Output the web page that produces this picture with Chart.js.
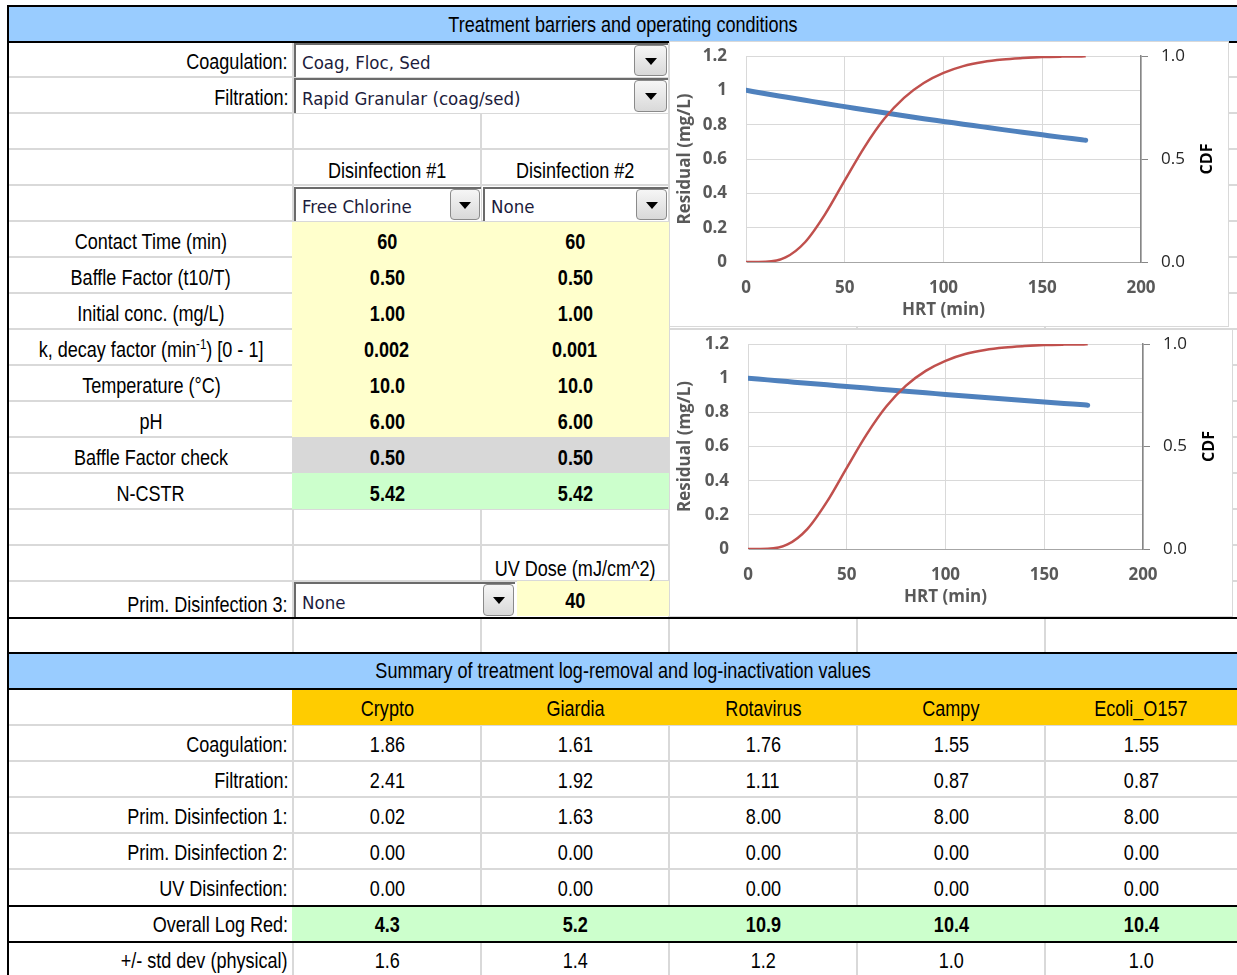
<!DOCTYPE html>
<html>
<head>
<meta charset="utf-8">
<title>Treatment barriers</title>
<script src="https://cdn.jsdelivr.net/npm/chart.js@4.4.1/dist/chart.umd.min.js"></script>
<style>
    body {
        margin: 0;
        width: 1237px;
        height: 975px;
        overflow: hidden;
        background: #fff;
    }
    #sheet {
        position: relative;
        width: 1237px;
        height: 975px;
        font-family: "Liberation Sans", Arial, sans-serif;
        font-size: 22px;
        color: #000;
    }
    .blk {
        position: absolute;
        white-space: nowrap;
        box-sizing: border-box;
    }
    /* Arial Narrow look: squeeze Liberation Sans horizontally */
    .narrow {
        display: inline-block;
        transform: scaleX(0.82);
    }
    .dd-text {
        position: absolute;
        left: 6px;
        font-family: "DejaVu Sans Condensed", "DejaVu Sans", sans-serif;
        font-size: 18.5px;
        color: #1c1c3c;
    }
    .dd-btn {
        position: absolute;
        right: 1px;
        top: 0;
        border: 1px solid #8a8a8a;
        border-radius: 4px;
        background: linear-gradient(#f6f6f6, #d9d9d9);
        box-sizing: border-box;
    }
    .dd-btn::after {
        content: "";
        position: absolute;
        left: 50%;
        top: 50%;
        margin-left: -6px;
        margin-top: -3px;
        border-left: 6px solid transparent;
        border-right: 6px solid transparent;
        border-top: 7px solid #000;
    }
    canvas {
        position: absolute;
    }
</style>
</head>
<body>
<div id="sheet"></div>

<script>
// Chart data
const hrtMin = [0, 10, 20, 30, 40, 50, 60, 70, 80, 90, 100, 110, 120, 130, 140, 150, 160, 170, 172]
const cdfValues = [0, 0.001, 0.022, 0.097, 0.231, 0.396, 0.558, 0.695, 0.797, 0.869, 0.918, 0.951, 0.971, 0.983, 0.990, 0.995, 0.997, 0.998, 0.999]
const residualDisinf1 = [1, 0.980, 0.961, 0.942, 0.923, 0.905, 0.887, 0.869, 0.852, 0.835, 0.819, 0.803, 0.787, 0.771, 0.756, 0.741, 0.726, 0.712, 0.709]
const residualDisinf2 = [1, 0.990, 0.980, 0.970, 0.961, 0.951, 0.942, 0.932, 0.923, 0.914, 0.905, 0.896, 0.887, 0.878, 0.869, 0.861, 0.852, 0.844, 0.842]
const residualTicks = ['0', '0.2', '0.4', '0.6', '0.8', '1', '1.2']
const cdfTicks = ['0.0', '0.5', '1.0']

// Table content
const paramLabels = ['Contact Time (min)', 'Baffle Factor (t10/T)', 'Initial conc. (mg/L)',
    'k, decay factor (min<span style="font-size:14px;position:relative;top:-8px">-1</span>) [0 - 1]',
    'Temperature (°C)', 'pH', 'Baffle Factor check', 'N-CSTR']
const disinf1Values = ['60', '0.50', '1.00', '0.002', '10.0', '6.00', '0.50', '5.42']
const disinf2Values = ['60', '0.50', '1.00', '0.001', '10.0', '6.00', '0.50', '5.42']
const species = ['Crypto', 'Giardia', 'Rotavirus', 'Campy', 'Ecoli_O157']
const summaryLabels = ['Coagulation:', 'Filtration:', 'Prim. Disinfection 1:', 'Prim. Disinfection 2:',
    'UV Disinfection:', 'Overall Log Red:', '+/- std dev (physical)']
const summaryValues = [
    ['1.86', '1.61', '1.76', '1.55', '1.55'],
    ['2.41', '1.92', '1.11', '0.87', '0.87'],
    ['0.02', '1.63', '8.00', '8.00', '8.00'],
    ['0.00', '0.00', '0.00', '0.00', '0.00'],
    ['0.00', '0.00', '0.00', '0.00', '0.00'],
    ['4.3', '5.2', '10.9', '10.4', '10.4'],
    ['1.6', '1.4', '1.2', '1.0', '1.0']
]

const colEdges = [9, 293, 481, 669, 857, 1045, 1237]
const colCenters = [387, 575, 763, 951, 1141]
const gridGray = '#D9D9D9'

const sheet = document.getElementById('sheet')

function block(x, y, w, h, css) {
    let d = document.createElement('div')
    d.className = 'blk'
    d.style.cssText = `left:${x}px;top:${y}px;width:${w}px;height:${h}px;` + (css || '')
    sheet.appendChild(d)
    return d
}

// right aligned label ending at x
function rightText(x, y, html) {
    let d = block(x - 600, y, 600, 36, 'line-height:36px;text-align:right;')
    d.innerHTML = `<span class="narrow" style="transform-origin:right center">${html}</span>`
}

function centered(cx, y, html, css) {
    let d = block(cx - 400, y, 800, 36, 'line-height:36px;text-align:center;' + (css || ''))
    d.innerHTML = `<span class="narrow" style="transform-origin:center center">${html}</span>`
}

function dropdown(x, y, w, h, label, btnW) {
    let d = block(x, y, w, h, 'background:#fff;border-top:2px solid #6b6b6b;border-left:2px solid #6b6b6b;')
    let t = document.createElement('div')
    t.className = 'dd-text'
    t.style.top = '2px'
    t.style.lineHeight = (h - 2) + 'px'
    t.textContent = label
    d.appendChild(t)
    let b = document.createElement('div')
    b.className = 'dd-btn'
    b.style.width = btnW + 'px'
    b.style.height = (h - 3) + 'px'
    d.appendChild(b)
}

// gridlines
const topRows = [77, 113, 149, 185, 221, 257, 293, 329, 365, 401, 437, 473, 509, 545, 581]
topRows.forEach((y) => block(9, y - 1, 1228, 2, `background:${gridGray}`))
const summaryRows = [725, 761, 797, 833, 869]
summaryRows.forEach((y) => block(9, y - 1, 1228, 2, `background:${gridGray}`))
colEdges.slice(1, 6).forEach((x) => {
    block(x - 1, 43, 2, 574, `background:${gridGray}`)
    block(x - 1, 619, 2, 33, `background:${gridGray}`)
    block(x - 1, 690, 2, 285, `background:${gridGray}`)
})

// fills
block(9, 7, 1228, 34, 'background:#99CCFF')
block(9, 654, 1228, 34, 'background:#99CCFF')
block(292, 222, 377, 215, 'background:#FFFFCC')
block(292, 437, 377, 36, 'background:#D8D8D8')
block(292, 473, 377, 36, 'background:#CCFFCC')
block(517, 581, 152, 35, 'background:#FFFFCC')
block(292, 690, 945, 35, 'background:#FFCC00')
block(292, 907, 945, 34, 'background:#CCFFCC')

// black borders
;[5, 41, 617, 652, 688, 905, 941].forEach((y) => block(7, y, 1230, 2, 'background:#000'))
block(7, 5, 2, 970, 'background:#000')

// dropdowns
dropdown(294, 43, 374, 34, 'Coag, Floc, Sed', 33)
dropdown(294, 78, 374, 35, 'Rapid Granular (coag/sed)', 33)
dropdown(294, 187, 187, 34, 'Free Chlorine', 30)
dropdown(483, 187, 185, 34, 'None', 31)
dropdown(294, 582, 221, 35, 'None', 31)

// top section text
centered(623, 7, 'Treatment barriers and operating conditions')
rightText(288, 44, 'Coagulation:')
rightText(288, 80, 'Filtration:')
centered(colCenters[0], 153, 'Disinfection #1')
centered(colCenters[1], 153, 'Disinfection #2')
paramLabels.forEach((lab, i) => {
    let y = 224 + i * 36
    centered(151, y, lab)
    centered(colCenters[0], y, disinf1Values[i], 'font-weight:bold')
    centered(colCenters[1], y, disinf2Values[i], 'font-weight:bold')
})
centered(colCenters[1], 551, 'UV Dose (mJ/cm^2)')
rightText(288, 587, 'Prim. Disinfection 3:')
centered(colCenters[1], 583, '40', 'font-weight:bold')

// summary section
centered(623, 653, 'Summary of treatment log-removal and log-inactivation values')
species.forEach((s, j) => centered(colCenters[j], 691, s))
summaryLabels.forEach((lab, i) => {
    let y = 727 + i * 36
    rightText(288, y, lab)
    summaryValues[i].forEach((v, j) => {
        centered(colCenters[j], y, v, i === 5 ? 'font-weight:bold' : '')
    })
})

// charts
Chart.defaults.font.family = "'Open Sans', sans-serif"

const cdfAxisTitle = {
    id: 'cdfAxisTitle',
    afterDraw(chart) {
        let ctx = chart.ctx
        let area = chart.chartArea
        ctx.save()
        ctx.translate(area.right + 66, (area.top + area.bottom) / 2)
        ctx.rotate(-Math.PI / 2)
        ctx.font = "bold 16px 'Open Sans'"
        ctx.fillStyle = '#000'
        ctx.textAlign = 'center'
        ctx.textBaseline = 'middle'
        ctx.fillText('CDF', 0, 0)
        ctx.restore()
    }
}

function residualChart(box, residual, fit) {
    block(box.x, box.y, box.w, box.h, 'background:#fff;border:1px solid #D9D9D9')
    let canvas = document.createElement('canvas')
    canvas.width = box.w
    canvas.height = box.h - 1
    canvas.style.left = box.x + 'px'
    canvas.style.top = (box.y + 1) + 'px'
    sheet.appendChild(canvas)

    return new Chart(canvas, {
        type: 'line',
        data: {
            datasets: [{
                label: 'CDF',
                data: hrtMin.map((t, i) => ({ x: t, y: cdfValues[i] })),
                yAxisID: 'y2',
                borderColor: '#C0504D',
                borderWidth: 2.5,
                pointRadius: 0,
                cubicInterpolationMode: 'monotone'
            }, {
                label: 'Residual',
                data: hrtMin.map((t, i) => ({ x: t, y: residual[i] })),
                yAxisID: 'y',
                borderColor: '#4F81BD',
                borderWidth: 5,
                borderCapStyle: 'round',
                pointRadius: 0,
                cubicInterpolationMode: 'monotone'
            }]
        },
        options: {
            responsive: false,
            animation: false,
            events: [],
            layout: { padding: { top: 14, left: 0, right: 0, bottom: 0 } },
            plugins: {
                legend: { display: false },
                tooltip: { enabled: false }
            },
            scales: {
                x: {
                    type: 'linear',
                    min: 0,
                    max: 200,
                    ticks: { stepSize: 50, padding: 16, color: '#595959', font: { size: 17, weight: 'bold' } },
                    grid: { color: gridGray, drawTicks: false },
                    border: { color: '#A6A6A6' },
                    title: {
                        display: true,
                        text: 'HRT (min)',
                        color: '#595959',
                        font: { size: 17, weight: 'bold' },
                        padding: { top: 0, bottom: fit.titlePad }
                    },
                    afterFit: (s) => {
                        s.height = fit.xHeight
                        s.paddingLeft = 0
                        s.paddingRight = 0
                    }
                },
                y: {
                    position: 'left',
                    min: 0,
                    max: 1.2,
                    ticks: {
                        stepSize: 0.2,
                        padding: 19,
                        color: '#595959',
                        font: { size: 17, weight: 'bold' },
                        callback: (v, i) => residualTicks[i]
                    },
                    grid: { color: gridGray, drawTicks: false },
                    border: { color: gridGray },
                    title: {
                        display: true,
                        text: 'Residual (mg/L)',
                        color: '#595959',
                        font: { size: 17, weight: 'bold' },
                        padding: { top: 6, bottom: 0 }
                    },
                    afterFit: (s) => {
                        s.width = fit.yWidth
                        s.paddingTop = 0
                        s.paddingBottom = 0
                    }
                },
                y2: {
                    position: 'right',
                    min: 0,
                    max: 1,
                    ticks: {
                        stepSize: 0.5,
                        padding: 13,
                        color: '#262626',
                        font: { size: 17 },
                        callback: (v, i) => cdfTicks[i]
                    },
                    grid: { drawOnChartArea: false, tickLength: 7, color: '#868686' },
                    border: { color: '#868686', width: 1.5 },
                    afterFit: (s) => {
                        s.width = fit.y2Width
                        s.paddingTop = 0
                        s.paddingBottom = 0
                    }
                }
            }
        },
        plugins: [cdfAxisTitle]
    })
}

residualChart({ x: 669, y: 41, w: 560, h: 286 }, residualDisinf1, { yWidth: 77, y2Width: 88, xHeight: 65, titlePad: 7 })
residualChart({ x: 669, y: 329, w: 564, h: 288 }, residualDisinf2, { yWidth: 79, y2Width: 90, xHeight: 68, titlePad: 10 })
</script>
</body>
</html>
